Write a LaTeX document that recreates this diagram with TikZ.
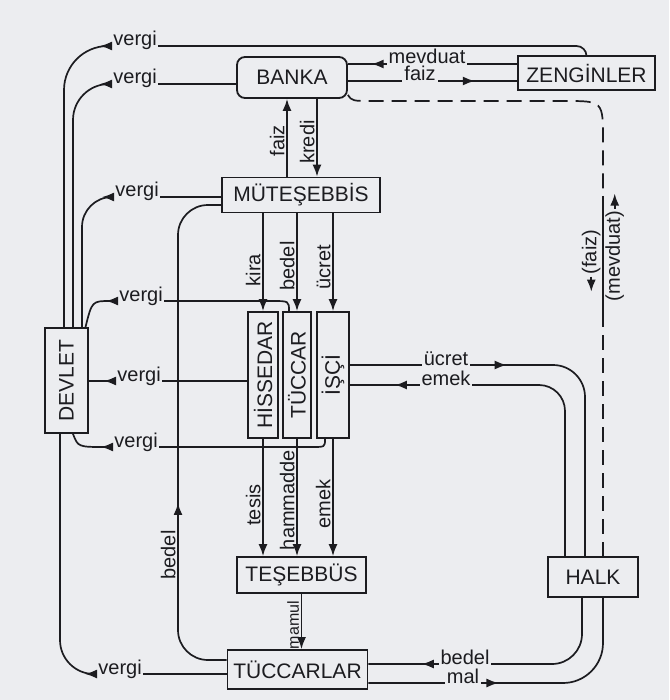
\documentclass[tikz,border=0pt]{standalone}
\usepackage{fontspec}
\setmainfont{Liberation Sans}
\usetikzlibrary{arrows.meta,decorations.markings}
\definecolor{paper}{RGB}{236,237,240}
\definecolor{ink}{RGB}{28,28,32}
\begin{document}
\begin{tikzpicture}[x=0.5pt,y=-0.5pt,
  ln/.style={draw=ink,line width=0.85pt},
  arrowend/.style={-{Latex[length=6pt,width=4.5pt]}},
  rev/.style={{Latex[reversed,length=6pt,width=4.5pt]}-},
  marr/.style={postaction={decorate},decoration={markings,mark=at position #1 with {\arrow[ink]{Latex[length=6pt,width=4.5pt]}}}},
  box/.style={draw=ink,line width=0.9pt,inner sep=1pt,font=\fontsize{10.5}{12}\selectfont,text=ink},
  lbl/.style={inner sep=0.5pt,font=\fontsize{10}{12}\selectfont,text=ink},
  hl/.style={lbl,fill=paper,inner sep=1pt},
  vl/.style={lbl,rotate=90,anchor=south,inner sep=1pt},
  dashln/.style={ln,dash pattern=on 7.5pt off 4pt}]

\fill[paper] (0,0) rectangle (669,700);
\useasboundingbox (0,0) rectangle (669,700);

% boxes
\node[box,rounded corners=4pt,minimum width=55pt,minimum height=20.5pt] (banka) at (292,77.5) {BANKA};
\node[box,minimum width=68.5pt,minimum height=17pt] (zeng) at (586.5,73) {ZENGİNLER};
\node[box,minimum width=79pt,minimum height=17.5pt] (mut) at (301,195) {MÜTEŞEBBİS};
\node[box,rotate=90,minimum width=63pt,minimum height=15pt] (his) at (263,375) {HİSSEDAR};
\node[box,rotate=90,minimum width=63pt,minimum height=14pt] (tuc) at (297,375) {TÜCCAR};
\node[box,rotate=90,minimum width=63pt,minimum height=16pt] (isci) at (333,375) {İŞÇİ};
\node[box,rotate=90,minimum width=52.5pt,minimum height=21.5pt] (devlet) at (66.5,380.5) {DEVLET};
\node[box,minimum width=64.5pt,minimum height=18pt] (tes) at (301.5,575) {TEŞEBBÜS};
\node[box,minimum width=70pt,minimum height=19.5pt] (tucl) at (297.5,669.5) {TÜCCARLAR};
\node[box,minimum width=45pt,minimum height=20pt] (halk) at (593,577) {HALK};

% vergi labels
\node[lbl,anchor=base west] (vA) at (112,46) {vergi};
\node[lbl,anchor=base west] (vB) at (112,84) {vergi};
\node[lbl,anchor=base west] (vC) at (114,197) {vergi};
\node[lbl,anchor=base west] (vD) at (118,301) {vergi};
\node[lbl,anchor=base west] (vE) at (116,381) {vergi};
\node[lbl,anchor=base west] (vF) at (113,447) {vergi};
\node[lbl,anchor=base west] (vG) at (97,674) {vergi};

% vergi connectors
\draw[ln,rounded corners=5pt] (zeng.north) |- (vA.base east);
\draw[ln,rev,rounded corners=22pt] (vA.base west) -| ([xshift=-1.25pt]devlet.east);
\draw[ln] (banka.west |- vB.base) -- (vB.base east);
\draw[ln,rev,rounded corners=18pt] (vB.base west) -| ([xshift=3.25pt]devlet.east);
\draw[ln] (mut.west |- vC.base) -- (vC.base east);
\draw[ln,rev,rounded corners=15pt] (vC.base west) -| ([xshift=7.75pt]devlet.east);
\draw[ln] ([xshift=-4pt]tuc.east) .. controls (289,301) .. (272,301) -- (vD.base east);
\draw[ln,rev] (vD.base west) .. controls (92,301) .. ([xshift=9.5pt]devlet.east);
\draw[ln] (his.north |- vE.base) -- (vE.base east);
\draw[ln,rev] (vE.base west) -- (devlet.south |- vE.base);
\draw[ln] ([xshift=-4pt]isci.west) .. controls (325,447) .. (312,447) -- (vF.base east);
\draw[ln,rev] (vF.base west) .. controls (78,447) .. ([xshift=3.25pt]devlet.west);
\draw[ln] (tucl.west |- vG.base) -- (vG.base east);
\draw[ln,rev,rounded corners=17pt] (vG.base west) -| ([xshift=-3.25pt]devlet.west);

% bedel (left)
\draw[ln,marr=0.37,rounded corners=15pt] ([yshift=4.75pt]tucl.west) -| (178,205) -- ([yshift=-5pt]mut.west);
\node[vl] (lbed2) at (178,555) {bedel};

% banka <-> muteşebbis
\coordinate (fx) at ([xshift=-7pt]mut.north);
\draw[ln,arrowend] (fx) -- (fx |- banka.south);
\coordinate (kx) at ([xshift=8pt]mut.north);
\draw[ln,arrowend] (kx |- banka.south) -- (kx);
\node[vl] (lfz1) at (287,141) {faiz};
\node[vl] (lkr) at (317,142) {kredi};

% muteşebbis -> three
\draw[ln,arrowend] (his.east |- mut.south) -- (his.east);
\draw[ln,arrowend] (tuc.east |- mut.south) -- (tuc.east);
\draw[ln,arrowend] (isci.east |- mut.south) -- (isci.east);
\node[vl] (lkira) at (263,270) {kira};
\node[vl] (lbed1) at (297,266) {bedel};
\node[vl] (luc1) at (333,267) {ücret};

% three -> teşebbüs
\draw[ln,arrowend] (his.west) -- (his.west |- tes.north);
\draw[ln,arrowend] (tuc.west) -- (tuc.west |- tes.north);
\draw[ln,arrowend] (isci.west) -- (isci.west |- tes.north);
\node[vl] (ltes) at (263,505) {tesis};
\node[vl] (lham) at (297,500) {hammadde};
\node[vl] (lem1) at (333,504) {emek};
\draw[ln,arrowend] (tes.south) -- (tes.south |- tucl.north);
\node[vl,font=\fontsize{8}{10}\selectfont] (lmam) at (301.5,625) {mamul};

% banka <-> zenginler
\coordinate (zm) at ([yshift=4.5pt]zeng.west);
\coordinate (zf) at ([yshift=-4pt]zeng.west);
\draw[ln,marr=0.86] (zm) -- (zm -| banka.east);
\draw[ln,marr=0.75] (zf -| banka.east) -- (zf);
\node[hl,anchor=base] (lmev) at (427,64) {mevduat};
\node[hl,anchor=base] (lfz2) at (420,81) {faiz};

% işçi <-> halk
\coordinate (iu) at ([yshift=5pt]isci.south);
\coordinate (ie) at ([yshift=-5pt]isci.south);
\draw[ln,marr=0.38,rounded corners=16pt] (iu) -| ([xshift=-4pt]halk.north);
\draw[ln,marr=0.88,rounded corners=13pt] ([xshift=-14pt]halk.north) |- (ie);
\node[hl,anchor=base] (luc2) at (446,365) {ücret};
\node[hl,anchor=base] (lem2) at (446,385) {emek};

% banka - - halk
\coordinate (dh) at ([xshift=5pt]halk.north);
\coordinate (ds1) at (603,196);
\coordinate (ds2) at (603,312);
\draw[dashln] ([yshift=2pt]banka.south east) .. controls (352,101) .. (374,101) -- (565,101) .. controls (603,101) .. (603,140) -- (ds1);
\draw[ln] (ds1) -- (ds2);
\draw[dashln] (ds2) -- (dh);
\node[vl] (lfz3) at (603,252) {(faiz)};
\draw[ln,arrowend] (lfz3.west) -- ++(0,15);
\node[lbl,rotate=90,anchor=north,inner sep=1pt] (lmv) at (603,256) {(mevduat)};
\draw[ln,arrowend] (lmv.east) -- ++(0,-15);

% tüccarlar <-> halk
\coordinate (tb) at ([yshift=2.75pt]tucl.east);
\coordinate (tm) at ([yshift=-6.75pt]tucl.east);
\draw[ln,marr=0.80,rounded corners=15pt] ([xshift=-5.5pt]halk.south) |- (tb);
\draw[ln,marr=0.43,rounded corners=20pt] (tm) -| ([xshift=5pt]halk.south);
\node[hl,anchor=base] (lbed3) at (465,664) {bedel};
\node[hl,anchor=base] (lmal) at (463,683) {mal};
\end{tikzpicture}
\end{document}
